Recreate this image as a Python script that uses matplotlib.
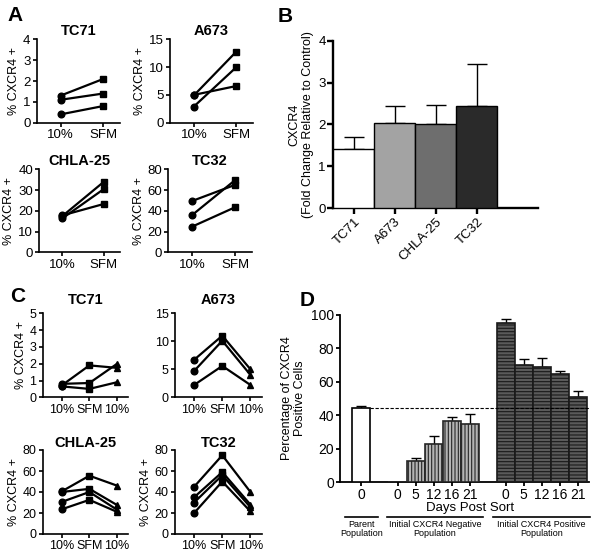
import numpy as np
import matplotlib
matplotlib.use("Agg")
import matplotlib.pyplot as plt
from matplotlib.transforms import blended_transform_factory

plt.rcParams['font.family'] = ['Liberation Sans', 'DejaVu Sans']
plt.rcParams['hatch.linewidth'] = 0.8

# ---- data ----
# panel A: 10% serum vs serum free medium (three experiments per line)
a_xlabels = ['10%', 'SFM']
a_titles = ['TC71', 'A673', 'CHLA-25', 'TC32']
a_tc71 = [[1.3, 2.1], [1.1, 1.4], [0.4, 0.8]]
a_a673 = [[4.9, 12.8], [2.9, 10.0], [5.0, 6.6]]
a_chla25 = [[17.5, 34.0], [16.4, 30.5], [17.8, 23.3]]
a_tc32 = [[49.5, 65.0], [36.0, 69.5], [24.8, 43.4]]
a_ymax = [4, 15, 40, 80]
a_yticks = [[0, 1, 2, 3, 4], [0, 5, 10, 15], [0, 10, 20, 30, 40], [0, 20, 40, 60, 80]]

# panel B: fold change
b_cells = ['TC71', 'A673', 'CHLA-25', 'TC32']
b_mean = [1.41, 2.03, 2.01, 2.43]
b_err = [0.30, 0.41, 0.46, 1.01]
b_colors = ['white', '#a3a3a3', '#6e6e6e', '#2a2a2a']

# panel C: 10% -> SFM -> 10%
c_xlabels = ['10%', 'SFM', '10%']
c_tc71 = [[0.7, 1.9, 1.75], [0.8, 0.85, 2.0], [0.65, 0.5, 0.9]]
c_a673 = [[6.7, 11.0, 5.0], [4.7, 10.1, 4.0], [2.2, 5.6, 2.2]]
c_chla25 = [[40.5, 55.5, 46.0], [40.0, 43.0, 27.5], [30.5, 40.0, 23.0], [23.5, 32.5, 21.0]]
c_tc32 = [[45.0, 75.0, 40.0], [35.0, 59.0, 28.0], [30.0, 56.0, 25.5], [20.0, 50.0, 21.5]]
c_ymax = [5, 15, 80, 80]
c_yticks = [[0, 1, 2, 3, 4, 5], [0, 5, 10, 15], [0, 20, 40, 60, 80], [0, 20, 40, 60, 80]]

# panel D: sorted populations
d_days = ['0', '5', '12', '16', '21']
d_parent = 44.6
d_parent_err = 1.1
d_neg = [0.0, 12.7, 22.9, 36.3, 34.5]
d_neg_err = [0.0, 1.8, 4.6, 2.5, 6.5]
d_pos = [95.0, 70.3, 69.1, 64.5, 50.6]
d_pos_err = [2.4, 3.6, 5.0, 2.0, 3.6]

W, H = 601, 556
fig = plt.figure(figsize=(W / 100, H / 100), dpi=100)


def add_ax(l, r, t, b):
    return fig.add_axes([l / W, 1 - b / H, (r - l) / W, (b - t) / H])


def style(ax, lw=1.2):
    for s in ['top', 'right']:
        ax.spines[s].set_visible(False)
    for s in ['left', 'bottom']:
        ax.spines[s].set_linewidth(lw)
    ax.tick_params(direction='out', length=3, width=lw, pad=1.5)


def line_panel(ax, series, xlabels, ymax, yticks, title, markers, tick_fs, title_pad, ylabel=True):
    xs = np.arange(1, len(xlabels) + 1)
    for vals in series:
        ax.plot(xs, vals, color='black', lw=1.6, zorder=2)
        for x, v, m in zip(xs, vals, markers):
            ax.plot(x, v, marker=m, color='black', ms=4.8, zorder=3, clip_on=False)
    ax.set_ylim(0, ymax)
    ax.set_yticks(yticks)
    ax.set_xticks(xs)
    ax.set_xticklabels(xlabels)
    ax.tick_params(labelsize=tick_fs)
    ax.set_title(title, fontsize=10.5, fontweight='bold', pad=title_pad)
    if ylabel:
        ax.set_ylabel('% CXCR4 +', fontsize=9, labelpad=2)
    style(ax)


# ---- panel A ----
a_boxes = [(36.7, 120, 39.3, 122.7), (170, 253, 39.3, 122.7),
           (39.3, 120, 169.3, 252.3), (168.3, 251.7, 169.3, 252.3)]
a_data = [a_tc71, a_a673, a_chla25, a_tc32]
for box, data, title, ymax, yt in zip(a_boxes, a_data, a_titles, a_ymax, a_yticks):
    ax = add_ax(*box)
    line_panel(ax, data, a_xlabels, ymax, yt, title, ['o', 's'], 9.5, 3)
    ax.set_xlim(0.44, 2.39)

# ---- panel C ----
c_boxes = [(42.7, 128.3, 313.3, 397.3), (175, 261.7, 313.3, 397.3),
           (42.7, 128.3, 450, 534), (175, 261.7, 450, 534)]
c_data = [c_tc71, c_a673, c_chla25, c_tc32]
c_pads = [7, 7, 1.5, 1.5]
for i, (box, data, title, ymax, yt) in enumerate(zip(c_boxes, c_data, a_titles, c_ymax, c_yticks)):
    ax = add_ax(*box)
    line_panel(ax, data, c_xlabels, ymax, yt, title, ['o', 's', '^'], 9, c_pads[i],
               ylabel=(i != 1))
    ax.set_xlim(0.32, 3.4)

# ---- panel B ----
ax = add_ax(333.3, 538.3, 40.7, 208.3)
bx = np.arange(1, len(b_cells) + 1)
ax.bar(bx, b_mean, width=1.0, color=b_colors, edgecolor='black', lw=1.0, zorder=3)
ax.errorbar(bx, b_mean, yerr=[np.zeros(len(b_err)), b_err], fmt='none', ecolor='black',
            elinewidth=1.0, capsize=7, capthick=1.0, zorder=2)
ax.set_xlim(0.5, 5.5)
ax.set_ylim(0, 4)
ax.set_yticks([0, 1, 2, 3, 4])
ax.set_xticks(bx)
ax.set_xticklabels(b_cells, rotation=45, ha='right', rotation_mode='anchor')
style(ax, lw=1.7)
ax.tick_params(labelsize=9.5, length=4)
ax.set_ylabel('CXCR4\n(Fold Change Relative to Control)', fontsize=9, labelpad=3)

# ---- panel D ----
ax = add_ax(340, 589.3, 315, 482)
px = [0]
nx = np.arange(2, 7)
qx = np.arange(8, 13)
ax.bar(px, [d_parent], width=1.0, color='white', edgecolor='black', lw=1.2, zorder=3)
ax.bar(nx, d_neg, width=1.0, color='#b4b4b4', edgecolor='#262626', hatch='|||||', lw=1.2, zorder=3)
ax.bar(qx, d_pos, width=1.0, color='#5a5a5a', edgecolor='#1a1a1a', hatch='-----', lw=1.2, zorder=3)
ax.errorbar(px, [d_parent], yerr=[[0], [d_parent_err]], fmt='none', ecolor='black',
            elinewidth=1.0, capsize=3.5, zorder=2)
ax.errorbar(nx[1:], d_neg[1:], yerr=[np.zeros(4), d_neg_err[1:]], fmt='none', ecolor='black',
            elinewidth=1.0, capsize=3.5, zorder=2)
ax.errorbar(qx, d_pos, yerr=[np.zeros(5), d_pos_err], fmt='none', ecolor='black',
            elinewidth=1.0, capsize=3.5, zorder=2)
ax.set_xlim(-1.19, 12.64)
ax.set_ylim(0, 100)
ax.hlines(d_parent, 0.5, 12.64, colors='black', linestyles=(0, (3, 1.5)), lw=0.8, zorder=4)
ax.set_yticks([0, 20, 40, 60, 80, 100])
ax.set_xticks(list(px) + list(nx) + list(qx))
ax.set_xticklabels(['0'] + d_days + d_days)
style(ax, lw=1.3)
ax.tick_params(labelsize=10)
ax.set_ylabel('Percentage of CXCR4\nPositive Cells', fontsize=9, labelpad=3)
ax.text(0.52, -0.158, 'Days Post Sort', transform=ax.transAxes, ha='center', va='center', fontsize=9.5)
tr = blended_transform_factory(ax.transData, ax.transAxes)
groups = [(-0.92, 0.93, 'Parent\nPopulation'),
          (1.43, 6.72, 'Initial CXCR4 Negative\nPopulation'),
          (7.28, 12.67, 'Initial CXCR4 Positive\nPopulation')]
for x0, x1, lab in groups:
    ax.plot([x0, x1], [-0.21, -0.21], color='black', lw=1.2, transform=tr, clip_on=False)
    ax.text((x0 + x1) / 2, -0.225, lab, transform=tr, ha='center', va='top', fontsize=6.5,
            linespacing=1.1)

# panel letters
for lab, x, y in [('A', 7, 6), ('B', 278, 7), ('C', 10, 287), ('D', 300, 291)]:
    fig.text(x / W, 1 - y / H, lab, fontsize=15, fontweight='bold', ha='left', va='top')

fig.savefig('out.png', dpi=100)
